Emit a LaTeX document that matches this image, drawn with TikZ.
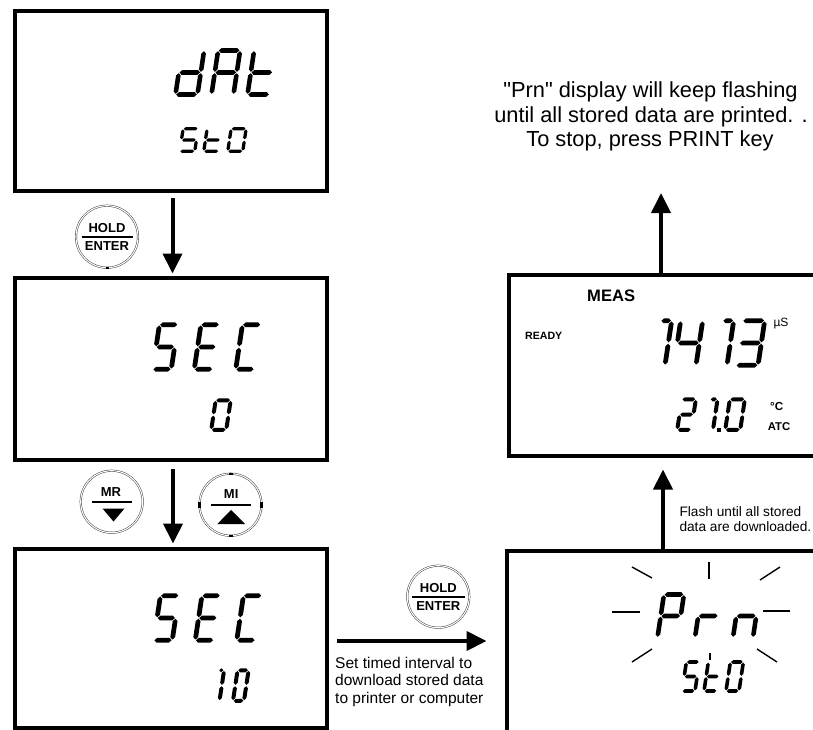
\documentclass[tikz,border=0pt]{standalone}
\usepackage{fontspec}
\setmainfont{Liberation Sans}
\newfontfamily\plainquote{Liberation Sans}
\usetikzlibrary{arrows.meta,calc}

\newcommand\sgap{0.7}
\newcommand\hsg[3]{\fill ({#1+\sgap},{#3}) -- ({#1+\sgap+\sT/2},{#3+\sT/2}) -- ({#2-\sgap-\sT/2},{#3+\sT/2}) -- ({#2-\sgap},{#3}) -- ({#2-\sgap-\sT/2},{#3-\sT/2}) -- ({#1+\sgap+\sT/2},{#3-\sT/2}) -- cycle;}
\newcommand\vsg[3]{\fill ({#1},{#2+\sgap}) -- ({#1+\sT/2},{#2+\sgap+\sT/2}) -- ({#1+\sT/2},{#3-\sgap-\sT/2}) -- ({#1},{#3-\sgap}) -- ({#1-\sT/2},{#3-\sgap-\sT/2}) -- ({#1-\sT/2},{#2+\sgap+\sT/2}) -- cycle;}
\newcommand\svsega{\hsg{0}{\sW}{\sH}}
\newcommand\svsegb{\vsg{\sW}{\sH/2}{\sH}}
\newcommand\svsegc{\vsg{\sW}{0}{\sH/2}}
\newcommand\svsegd{\hsg{0}{\sW}{0}}
\newcommand\svsege{\vsg{0}{0}{\sH/2}}
\newcommand\svsegf{\vsg{0}{\sH/2}{\sH}}
\newcommand\svsegg{\hsg{0}{\sW}{\sH/2}}
\newcommand\svsegh{\hsg{\sW*0.5}{\sW}{\sH}}
% x0, y0 (bottom-left of cell, image coords), W, H, T, segments
\newcommand\sevchar[6]{%
  \begin{scope}[shift={(#1,#2)},yscale=-1,xslant=-0.15]
  \def\sW{#3}\def\sH{#4}\def\sT{#5}%
  \foreach \q in {#6}{\csname svseg\q\endcsname}
  \end{scope}}

\begin{document}
\begin{tikzpicture}[x=1pt,y=-1pt,
  boxst/.style={draw,line width=4pt,rectangle,inner sep=0pt,outer sep=0pt},
  arr/.style={line width=4pt,-{Triangle[length=20pt,width=19pt]}},
  ring/.style={circle,minimum size=62pt,inner sep=0pt,outer sep=0pt,draw=black!80,line width=0.45pt,double=white,double distance=1.1pt},
  lbl/.style={inner sep=0pt,font=\bfseries\fontsize{13}{13}\selectfont,anchor=base},
  ray/.style={line width=1.4pt},
  txt/.style={inner sep=0pt}]
\useasboundingbox (0,0) rectangle (813,730);
\clip (0,0) rectangle (813,730);
\fill[white] (0,0) rectangle (813,730);

% boxes
\node[boxst,minimum width=311.5pt,minimum height=179.5pt] (b1) at (170.75,100.75) {};
\node[boxst,minimum width=311.5pt,minimum height=182pt] (b2) at (170.75,368.5) {};
\node[boxst,minimum width=311.5pt,minimum height=179.5pt] (b3) at (170.75,638.25) {};
\node[boxst,minimum width=493.5pt,minimum height=449.5pt] (b4) at (753.25,775.25) {};
\node[boxst,minimum width=491.5pt,minimum height=180.5pt] (b5) at (754.25,365.25) {};

% arrows
\coordinate (tip5) at (661,193);
\draw[arr] ($(b1.south -| 172.5,0)+(0,7.5)$) -- ($(b2.north -| 172.5,0)+(0,-4)$);
\draw[arr] ($(b2.south -| 173,0)+(0,9.5)$) -- ($(b3.north -| 173,0)+(0,-5)$);
\draw[arr] ($(b3.east |- 0,641)+(10.5,0)$) -- ($(b4.west |- 0,641)+(-20,0)$);
\draw[arr] (b4.north -| 663,0) -- ($(b5.south -| 663,0)+(0,14)$);
\draw[arr] (b5.north -| 661,0) -- (tip5);

% buttons
\node[ring] (k1) at (107,236.7) {};
\node[lbl] (k1a) at (107,232) {HOLD};
\node[lbl] (k1b) at (107,250.2) {ENTER};
\draw[line width=1.8pt] (82,236.7) -- (132.5,236.7);
\fill (105.5,266.5) rectangle (108.5,268.5);

\node[ring] (k2) at (111.7,501.7) {};
\node[lbl] (k2a) at (111,496.3) {MR};
\draw[line width=1.8pt] (92,501.7) -- (132,501.7);
\fill (102.5,508.5) -- (124.5,508.5) -- (113.5,521.5) -- cycle;

\node[ring] (k3) at (230.5,504.7) {};
\node[lbl] (k3a) at (231.2,498.5) {MI};
\draw[line width=1.8pt] (211,505) -- (250.7,505);
\fill (217.3,524) -- (245,524) -- (231.1,510) -- cycle;
\fill (198,502) rectangle (201,507.5);
\fill (260,502) rectangle (263,507.5);
\fill (229,472.5) rectangle (232.5,474.5);
\fill (229,534.8) rectangle (232.5,536.8);

\node[ring] (k4) at (438.3,596.7) {};
\node[lbl] (k4a) at (438.3,592.5) {HOLD};
\node[lbl] (k4b) at (438.3,610.7) {ENTER};
\draw[line width=1.8pt] (412,596.7) -- (465,596.7);

% box 1: dAt / StO
\sevchar{175.5}{94.5}{22}{44}{4.6}{b,c,d,e,g}
\sevchar{211.5}{94.5}{22}{44}{4.6}{a,b,c,e,f,g}
\sevchar{247.5}{94.5}{22}{44}{4.6}{d,e,f,g}
\sevchar{179.75}{151.25}{15}{22.5}{3.3}{a,f,g,c,d}
\sevchar{203.75}{151.25}{15}{22.5}{3.3}{d,e,f,g}
\sevchar{227.75}{151.25}{15}{22.5}{3.3}{a,b,c,d,e,f}

% box 2: SEC / 0
\sevchar{152.75}{369.25}{18.5}{44.5}{4.8}{a,f,g,c,d}
\sevchar{194.25}{369.25}{18.5}{44.5}{4.8}{a,d,e,f,g}
\sevchar{235.75}{369.25}{18.5}{44.5}{4.8}{a,d,e,f}
\sevchar{211.25}{429.75}{15}{29.5}{4}{a,b,c,d,e,f}

% box 3: SEC / 10
\sevchar{153.75}{640.25}{18.5}{44.5}{4.8}{a,f,g,c,d}
\sevchar{195.25}{640.25}{18.5}{44.5}{4.8}{a,d,e,f,g}
\sevchar{236.75}{640.25}{18.5}{44.5}{4.8}{a,d,e,f}
\sevchar{208.5}{700.75}{11}{30.5}{4}{b,c,h}
\sevchar{233}{700.75}{11}{30.5}{4}{a,b,c,d,e,f}

% box 4: Prn / StO with flash rays
\sevchar{657.5}{637.5}{20}{43}{4.6}{a,b,e,f,g}
\sevchar{695}{637.5}{20}{43}{4.6}{e,g}
\sevchar{733}{637.5}{20}{43}{4.6}{c,e,g}
\sevchar{682}{691}{13}{29}{3.6}{a,f,g,c,d}
\sevchar{704}{691}{13}{29}{3.6}{d,e,f,g}
\sevchar{726}{691}{13}{29}{3.6}{a,b,c,d,e,f}
\draw[ray] (709,562) -- (709,579);
\draw[ray] (632,567) -- (652,578);
\draw[ray] (760,580) -- (780,567);
\draw[ray] (612,612) -- (640,612);
\draw[ray] (763,611) -- (790,611);
\draw[ray] (632,662) -- (652,649);
\draw[ray] (757,649) -- (777,662);
\draw[ray] (710,653) -- (710,660);

% box 5: MEAS display
\node[txt,anchor=base west,font=\bfseries\fontsize{16.6}{18}\selectfont] (meas) at (587,301.7) {MEAS};
\node[txt,anchor=base west,font=\bfseries\fontsize{10.6}{12}\selectfont] (ready) at (525,339.3) {READY};
\node[txt,anchor=base west,font=\fontsize{12}{14}\selectfont] (us) at (773.3,326) {µS};
\node[txt,anchor=base west,font=\bfseries\fontsize{11.6}{13}\selectfont] (degc) at (770,410) {°C};
\node[txt,anchor=base west,font=\bfseries\fontsize{11.3}{13}\selectfont] (atc) at (767.7,430.7) {ATC};
\sevchar{643}{365.25}{22}{44.5}{4.8}{b,c,h}
\sevchar{674}{365.25}{22}{44.5}{4.8}{b,c,f,g}
\sevchar{705}{365.25}{22}{44.5}{4.8}{b,c,h}
\sevchar{736}{365.25}{22}{44.5}{4.8}{a,b,c,d,g}
\sevchar{677.25}{429.75}{14}{30.5}{4}{a,b,g,e,d}
\sevchar{698}{429.75}{15}{30.5}{4}{b,c,h}
\sevchar{725.25}{429.75}{15}{30.5}{4}{a,b,c,d,e,f}
\fill (717,427.5) rectangle (721,431.5);

% texts
\node[txt,anchor=base,font=\plainquote\fontsize{21.8}{24}\selectfont] (t1) at (650.5,98) {"Prn" display will keep flashing};
\node[txt,anchor=base,font=\fontsize{21.8}{24}\selectfont] (t2) at (651,122.5) {until all stored data are printed. .};
\node[txt,anchor=base,font=\fontsize{21.8}{24}\selectfont] (t3) at (650,147) {To stop, press PRINT key};

\node[txt,anchor=base west,font=\fontsize{15.5}{17}\selectfont] (s1) at (335,668.3) {Set timed interval to};
\node[txt,anchor=base west,font=\fontsize{15.5}{17}\selectfont] (s2) at (335,685.5) {download stored data};
\node[txt,anchor=base west,font=\fontsize{15.5}{17}\selectfont] (s3) at (335,703) {to printer or computer};

\node[txt,anchor=base west,font=\fontsize{13.7}{15}\selectfont] (f1) at (679.3,516.7) {Flash until all stored};
\node[txt,anchor=base west,font=\fontsize{13.7}{15}\selectfont] (f2) at (679.3,531) {data are downloaded.};
\end{tikzpicture}
\end{document}
